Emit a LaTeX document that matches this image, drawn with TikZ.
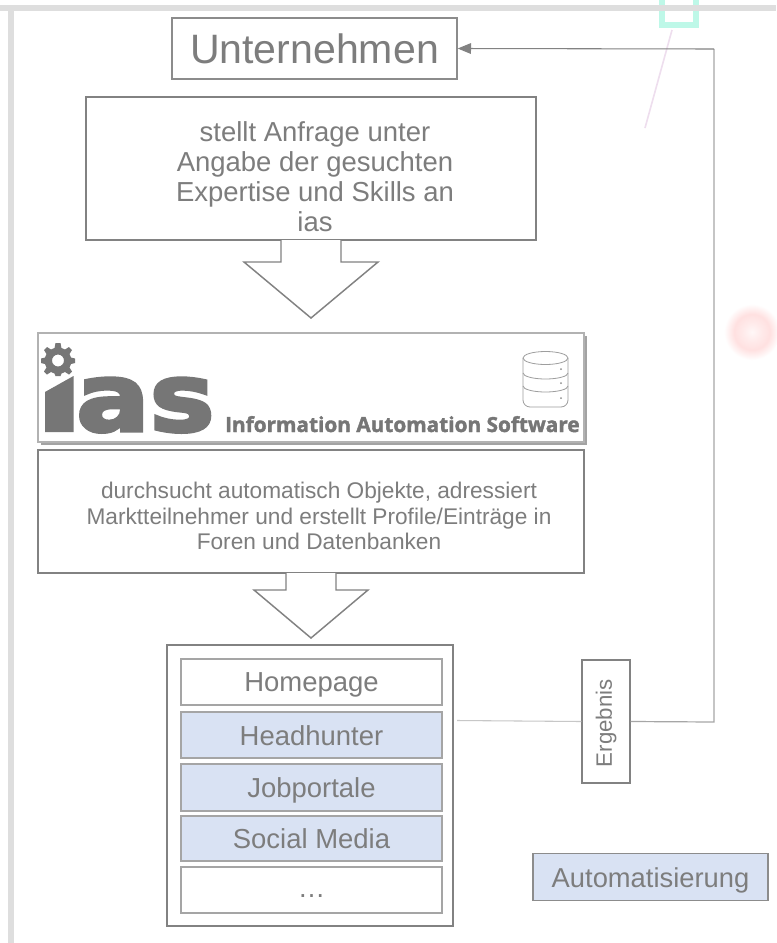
\documentclass[tikz,border=0pt]{standalone}
\usepackage{fontspec}
\setmainfont{Liberation Sans}
\newfontfamily\logofont[FakeBold=3.5]{DejaVu Sans Bold}
\newfontfamily\sublogofont[FakeBold=1.8]{Open Sans Bold}
\usetikzlibrary{arrows.meta,shadows}
\definecolor{txtgrey}{RGB}{125,125,125}
\definecolor{logogrey}{RGB}{118,118,118}
\definecolor{linegrey}{RGB}{130,130,130}
\definecolor{itemgrey}{RGB}{165,165,165}
\definecolor{bluefill}{RGB}{217,226,243}
\definecolor{framegrey}{RGB}{222,222,222}
\definecolor{glowcyan}{RGB}{190,248,232}
\newcommand{\dn}[1]{\raisebox{-2.25pt}[\height][\depth]{#1}}
\newcommand{\dnless}[1]{\raisebox{-0.5pt}[\height][\depth]{#1}}
\pgfdeclareradialshading{ringglow}{\pgfpointorigin}{color(0bp)=(red!3); color(8bp)=(red!8); color(16bp)=(red!12); color(25bp)=(white); color(50bp)=(white)}
\tikzset{
  x=0.75pt,y=-0.75pt,
  textbox/.style={draw=linegrey,line width=1.1pt,fill=white,inner sep=0pt},
  boxtext/.style={inner sep=0pt,align=center,text=txtgrey},
  listitem/.style={draw=itemgrey,line width=1.1pt,minimum width=261*0.75pt,inner sep=0pt,text=txtgrey,font=\fontsize{20.6}{24}\selectfont},
  plainitem/.style={listitem,fill=white},
  blueitem/.style={listitem,fill=bluefill},
  greybox/.style={draw=itemgrey!85!black,line width=1pt,fill=white,inner sep=0pt,text=txtgrey},
  blockarrow/.style={draw=linegrey,line width=1.1pt,fill=white},
}
\begin{document}
\begin{tikzpicture}
\useasboundingbox (0,0) rectangle (776,943);
\fill[white] (0,0) rectangle (776,943);
% faint background artefacts
\draw[line width=4.2pt,draw=glowcyan] (662,-6) -- (662,25) -- (696,25) -- (696,-6);
\draw[line width=1.2pt,draw=violet!13] (672,30) -- (645,128);
\shade[shading=ringglow] (752,332) circle (28);
\fill[framegrey] (0,5) rectangle (776,11);
\fill[framegrey] (8,5) rectangle (14,943);
% Unternehmen
\node[greybox,minimum width=285*0.75pt,minimum height=61*0.75pt,font=\fontsize{30.8}{36}\selectfont] (unt) at (314.5,48.5) {Unternehmen};
% Request box
\node[textbox,minimum width=450*0.75pt,minimum height=143*0.75pt] (req) at (311,168.5) {};
\node[boxtext,font=\fontsize{20.6}{22.5}\selectfont] (reqtext) at (315,176.5) {stellt Anfrage unter\\Angabe der gesuchten\\Expertise und Skills an\\ias};
% block arrow 1
\path[blockarrow] (281,240) -- (281,262) -- (244,262) -- (311,318) -- (378,262) -- (341,262) -- (341,240);
% ias banner
\node[draw=black!30,line width=1pt,fill=white,minimum width=546*0.75pt,minimum height=109*0.75pt,inner sep=0pt,drop shadow={shadow xshift=2.5pt,shadow yshift=-2.5pt,fill=black!60,opacity=0.6}] (banner) at (311,387.5) {};
% gear
\fill[logogrey,even odd rule] (55.5,343) -- (60.5,343) -- (61.5,348) -- (65,349.5) -- (69,347) -- (72,350) -- (69.5,354) -- (71,357.5) -- (75,358.5) -- (75,363) -- (71,364) -- (69.5,367.5) -- (72,371.5) -- (69,374.5) -- (65,372) -- (61.5,373.5) -- (60.5,376) -- (55.5,376) -- (54.5,373.5) -- (51,372) -- (47,374.5) -- (44,371.5) -- (46.5,367.5) -- (45,364) -- (41,363) -- (41,358.5) -- (45,357.5) -- (46.5,354) -- (44,350) -- (47,347) -- (51,349.5) -- (54.5,348) -- cycle (58,360.5) circle (6);
% i of the logo
\fill[logogrey] (73.5,376) -- (73.5,432) -- (45,432) -- (45,392) -- cycle;
\node[inner sep=0pt,anchor=base west,text=logogrey,font=\logofont\fontsize{71}{71}\selectfont] (logo) at (76,431) {\scalebox{1.15}[1]{as}};
\node[inner sep=0pt,anchor=base east,text=logogrey,font=\sublogofont\fontsize{15.6}{18}\selectfont] (sublogo) at (580,432) {Information Automation Software};
% database icon
\begin{scope}[draw=black!38,line width=0.6pt]
\draw (523,358) -- (523,400) arc[start angle=180,end angle=90,radius=7] -- (561,407) arc[start angle=90,end angle=0,radius=7] -- (568,358);
\draw (545.5,358) ellipse[x radius=22.5,y radius=6.5];
\draw (523,373) arc[start angle=180,end angle=0,x radius=22.5,y radius=6];
\draw (523,386) arc[start angle=180,end angle=0,x radius=22.5,y radius=6];
\fill[black!45] (561,369) circle (1) (561,383) circle (1) (561,398) circle (1);
\end{scope}
% second text box
\node[textbox,minimum width=546*0.75pt,minimum height=123*0.75pt] (auto) at (311,511.5) {};
\node[boxtext,font=\fontsize{17}{19.2}\selectfont] (autotext) at (319,516) {durchsucht automatisch Objekte, adressiert\\Marktteilnehmer und erstellt Profile/Einträge in\\Foren und Datenbanken};
% block arrow 2
\path[blockarrow] (286,573) -- (286,590) -- (254,590) -- (311,638) -- (368,590) -- (336,590) -- (336,573);
% list
\node[draw=linegrey,line width=1.1pt,fill=white,minimum width=286*0.75pt,minimum height=281*0.75pt,inner sep=0pt] (list) at (310,785.5) {};
\node[plainitem,minimum height=46*0.75pt] (home) at (311.5,682) {\dn{Homepage}};
\node[blueitem,minimum height=46*0.75pt] (head) at (311.5,735) {\dnless{Headhunter}};
\node[blueitem,minimum height=47*0.75pt] (jobs) at (311.5,787.5) {\dn{Jobportale}};
\node[blueitem,minimum height=45*0.75pt] (social) at (311.5,838.5) {\dnless{Social Media}};
\node[plainitem,minimum height=46*0.75pt] (more) at (311.5,890) {\raisebox{-4.5pt}[\height][\depth]{…}};
% result
\coordinate (listout) at (457,720.5);
\coordinate (corner1) at (714,722);
\coordinate (corner2) at (714,49);
\node[draw=linegrey,line width=1.1pt,fill=white,minimum width=48*0.75pt,minimum height=123*0.75pt,inner sep=0pt,text=txtgrey,font=\fontsize{16.7}{20}\selectfont] (erg) at (606,721.5) {\rotatebox{90}{Ergebnis\hspace{2.5pt}}};
\draw[draw=black!22,line width=0.8pt] (listout) -- (erg.west);
\draw[draw=black!35,line width=0.9pt] (erg.east) -- (corner1) -- (corner2);
\draw[draw=linegrey,line width=0.8pt,-{Triangle[length=10pt,width=8pt,fill=linegrey]}] (corner2) -- (unt.east);
% legend
\node[draw=itemgrey!85!black,line width=1pt,fill=bluefill,minimum width=235*0.75pt,minimum height=47*0.75pt,inner sep=0pt,text=txtgrey,font=\fontsize{20.5}{24}\selectfont] (legend) at (650.5,877) {\dn{Automatisierung}};
\end{tikzpicture}
\end{document}
